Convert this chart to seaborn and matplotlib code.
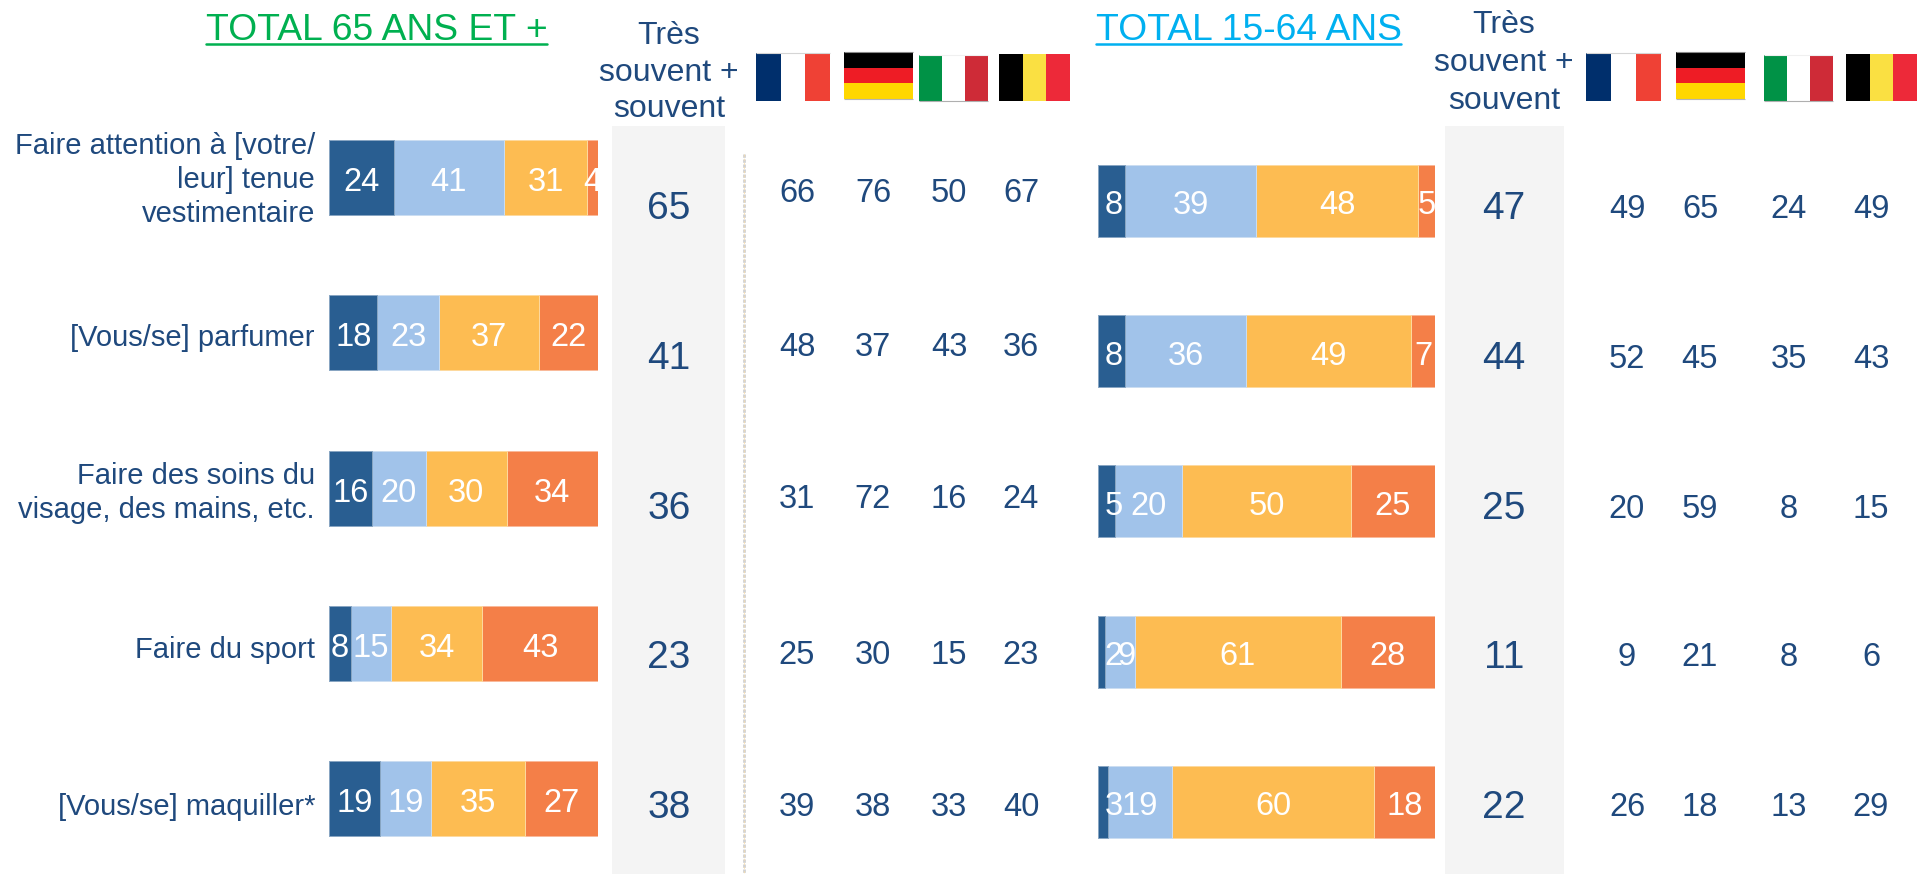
import numpy as np
import pandas as pd
import matplotlib
matplotlib.use("Agg")
import matplotlib.pyplot as plt
from matplotlib.colors import to_rgb
from matplotlib.patches import Rectangle
import seaborn as sns

sns.set_style("white")
plt.rcParams["font.family"] = ["Liberation Sans", "DejaVu Sans"]

categories = ["Faire attention à [votre/\nleur] tenue\nvestimentaire", "[Vous/se] parfumer",
              "Faire des soins du\nvisage, des mains, etc.", "Faire du sport", "[Vous/se] maquiller*"]
colors = ["#295E91", "#A1C3EA", "#FDBC52", "#F47F48"]

old_a = [24, 18, 16, 8, 19]
old_b = [41, 23, 20, 15, 19]
old_c = [31, 37, 30, 34, 35]
old_d = [4, 22, 34, 43, 27]
young_a = [8, 8, 5, 2, 3]
young_b = [39, 36, 20, 9, 19]
young_c = [48, 49, 50, 61, 60]
young_d = [5, 7, 25, 28, 18]

old_total = [65, 41, 36, 23, 38]
young_total = [47, 44, 25, 11, 22]
old_countries = [[66, 76, 50, 67], [48, 37, 43, 36], [31, 72, 16, 24], [25, 30, 15, 23], [39, 38, 33, 40]]
young_countries = [[49, 65, 24, 49], [52, 45, 35, 43], [20, 59, 8, 15], [9, 21, 8, 6], [26, 18, 13, 29]]

TXT = "#1F497D"
W, H = 1925, 874
fig = plt.figure(figsize=(W / 100, H / 100), dpi=100)
bg = fig.add_axes([0, 0, 1, 1])
bg.set_xlim(0, W)
bg.set_ylim(H, 0)
bg.axis("off")


def lighter(c, amount=0.45):
    r = np.array(to_rgb(c))
    return tuple(r + (1 - r) * amount)


def stacked(series, x0, x1, y_first, y_step, bar_h, min_x=0):
    # full height axes, ylim worked out so rows land on y_first + i * y_step
    ax = fig.add_axes([x0 / W, 0, (x1 - x0) / W, 1])
    ax.patch.set_alpha(0)
    vals = np.array(series, dtype=float)
    cum = vals.cumsum(axis=0)
    # draw longest first, shorter ones on top
    for i in range(3, -1, -1):
        df = pd.DataFrame({"cat": categories, "v": cum[i]})
        sns.barplot(data=df, y="cat", x="v", color=colors[i], saturation=1, width=bar_h / y_step,
                    edgecolor=lighter(colors[i]), linewidth=0.7, ax=ax)
    ax.set_xlim(0, 100)
    ax.set_ylim((H - y_first) / y_step, -y_first / y_step)
    ax.axis("off")
    for i in range(4):
        for r in range(5):
            pos = max(cum[i][r] - vals[i][r] / 2, min_x)
            # the lone 9 sits to the right of its segment centre in the original
            if min_x and i == 1 and vals[i][r] == 9:
                pos += 2
            ax.text(pos, r + 5 / y_step, str(int(vals[i][r])), color="white",
                    fontsize=23.5, ha="center", va="center", clip_on=True)
    return ax


stacked([old_a, old_b, old_c, old_d], 329, 598, 177.5, 155.25, 75)
stacked([young_a, young_b, young_c, young_d], 1098, 1435, 201, 150.2, 72, min_x=4.7)

# grey panels and dotted separator
for x0, x1 in [(612, 725), (1445, 1564)]:
    bg.add_patch(Rectangle((x0, 126), x1 - x0, H - 126, color="#F4F4F4", lw=0))
bg.plot([743.5, 743.5], [154, H], color="#D2D2D2", lw=2, ls=(0, (1.2, 0.6)))
bg.plot([743.5, 743.5], [154, H], color="#FBDDA6", lw=0.5, ls=(0, (3, 3)))

# titles
bg.text(376.5, 30, "TOTAL 65 ANS ET +", color="#00B050", fontsize=26.8, ha="center", va="center")
bg.plot([206, 547], [44, 44], color="#00B050", lw=1.8)
bg.text(1248.5, 30, "TOTAL 15-64 ANS", color="#00B0F0", fontsize=26.8, ha="center", va="center")
bg.plot([1096, 1401], [44, 44], color="#00B0F0", lw=1.8)

# headers
for cx, ys in [(669, (36, 73, 109)), (1504, (25, 63, 101))]:
    for y, s in zip(ys, ["Très", "souvent +", "souvent"]):
        bg.text(cx, y, s, color=TXT, fontsize=23, ha="center", va="center")

# row labels
label_y = [180, 338, 493, 650, 807]
for y, s in zip(label_y, categories):
    bg.text(315, y, s, color=TXT, fontsize=21, ha="right", va="center", multialignment="right",
            linespacing=1.27)

# totals
for y, v in zip([209, 359, 509, 658, 808], old_total):
    bg.text(669, y, str(v), color=TXT, fontsize=28, ha="center", va="center")
for y, v in zip([209, 359, 509, 658, 808], young_total):
    bg.text(1504, y, str(v), color=TXT, fontsize=28, ha="center", va="center")

# country columns
for y, row in zip([194, 348, 500, 655, 807], old_countries):
    for x, v in zip([797, 873, 949, 1021], row):
        bg.text(x, y, str(v), color=TXT, fontsize=23.5, ha="center", va="center")
for y, row in zip([209, 359, 509, 658, 808], young_countries):
    for x, v in zip([1627, 1700, 1789, 1871], row):
        bg.text(x, y, str(v), color=TXT, fontsize=23.5, ha="center", va="center")


def flag(x0, x1, y0, y1, cols, horizontal=False, top=None, bottom=None):
    n = len(cols)
    for i, c in enumerate(cols):
        if horizontal:
            bg.add_patch(Rectangle((x0, y0 + i * (y1 - y0) / n), x1 - x0, (y1 - y0) / n, color=c, lw=0))
        else:
            bg.add_patch(Rectangle((x0 + i * (x1 - x0) / n, y0), (x1 - x0) / n, y1 - y0, color=c, lw=0))
    # thin grey rim some of the flag pictures have
    if top:
        bg.plot([x0, x1], [y0, y0], color=top, lw=0.8, solid_capstyle="butt")
    if bottom:
        bg.plot([x0, x1], [y1, y1], color=bottom, lw=0.8, solid_capstyle="butt")


FR = ["#002F6C", "#FFFFFF", "#EF4135"]
DE = ["#000000", "#EE1C25", "#FFD700"]
IT = ["#009246", "#FFFFFF", "#CE2B37"]
BE = ["#000000", "#FAE042", "#ED2939"]
for xs in [[(756, 830), (844, 913), (919, 988), (999, 1070)],
           [(1586, 1661), (1676, 1745), (1764, 1833), (1846, 1917)]]:
    flag(*xs[0], 53, 101, FR, top="#D5D5D5")
    flag(*xs[1], 52, 99, DE, horizontal=True, top="#8A8A8A", bottom="#B5B5B5")
    flag(*xs[2], 55, 101, IT, top="#F0F0F0", bottom="#AFAFAF")
    flag(*xs[3], 54, 101, BE)

fig.savefig("out.png", dpi=100)
